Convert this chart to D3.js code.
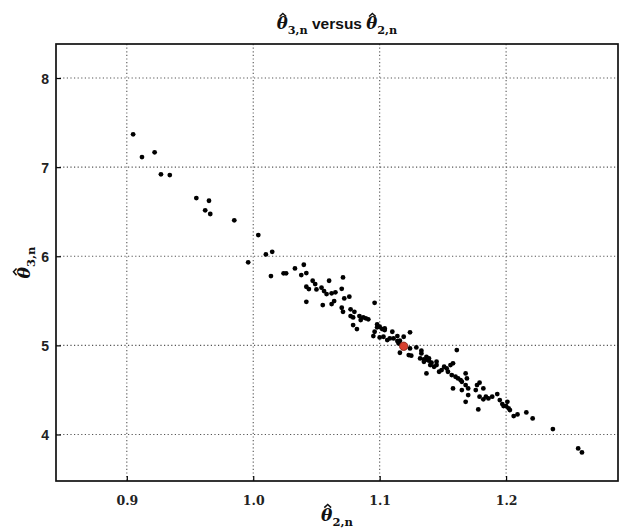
<!DOCTYPE html>
<html>
<head>
<meta charset="utf-8">
<script src="https://cdn.jsdelivr.net/npm/d3@7"></script>
<style>
  body { margin: 0; background: #fff; }
  svg { display: block; }
</style>
</head>
<body>
<svg id="chart" width="622" height="528"></svg>
<script>
// scatter values
var thetaTwo = [
  0.905, 0.912, 0.922, 0.927, 0.934, 0.955, 0.965, 0.962, 0.966, 0.985,
  1.004, 1.010, 1.015, 0.996, 1.014, 1.024, 1.026,
  1.033, 1.040, 1.038, 1.042, 1.047, 1.049, 1.042, 1.044, 1.050, 1.054,
  1.056, 1.060, 1.058, 1.062, 1.065, 1.070, 1.071, 1.042, 1.055, 1.062,
  1.064, 1.072, 1.076, 1.070, 1.071, 1.077, 1.080, 1.077, 1.079, 1.084,
  1.087, 1.085, 1.089, 1.091, 1.079, 1.082, 1.096, 1.098, 1.098, 1.100,
  1.102, 1.104, 1.096, 1.095, 1.100, 1.103, 1.106, 1.108, 1.111, 1.114,
  1.114, 1.104, 1.110, 1.116, 1.115, 1.116, 1.133, 1.137, 1.135, 1.139,
  1.141, 1.140, 1.143, 1.145,
  1.124, 1.119, 1.124, 1.129, 1.123, 1.125, 1.133, 1.132, 1.136, 1.139,
  1.135, 1.145, 1.147, 1.149, 1.151, 1.153, 1.156, 1.158, 1.154, 1.157,
  1.160, 1.162, 1.164, 1.168, 1.169, 1.165, 1.168, 1.158, 1.165, 1.170,
  1.168, 1.170, 1.177, 1.179, 1.176, 1.182, 1.179, 1.182, 1.184, 1.186,
  1.189, 1.193, 1.178, 1.195, 1.197, 1.198, 1.201, 1.202, 1.203, 1.200,
  1.206, 1.209, 1.216, 1.221, 1.237, 1.257, 1.260, 1.161, 1.137
];
var thetaThree = [
  7.368, 7.113, 7.166, 6.919, 6.911, 6.653, 6.623, 6.515, 6.474, 6.403,
  6.238, 6.021, 6.050, 5.932, 5.778, 5.808, 5.808,
  5.864, 5.905, 5.789, 5.811, 5.725, 5.688, 5.658, 5.632, 5.628, 5.647,
  5.609, 5.725, 5.576, 5.584, 5.595, 5.635, 5.763, 5.489, 5.452, 5.463,
  5.497, 5.527, 5.546, 5.422, 5.377, 5.404, 5.377, 5.329, 5.314, 5.329,
  5.314, 5.284, 5.303, 5.292, 5.228, 5.183, 5.478, 5.235, 5.202, 5.209,
  5.183, 5.172, 5.153, 5.104, 5.089, 5.097, 5.060, 5.078, 5.078, 5.104,
  5.048, 5.190, 5.153, 5.052, 5.022, 4.917, 4.940, 4.872, 4.843, 4.828,
  4.805, 4.779, 4.760, 4.779,
  5.146, 5.097, 4.966, 4.977, 4.891, 4.884, 4.910, 4.854, 4.835, 4.854,
  4.816, 4.816, 4.704, 4.723, 4.760, 4.741, 4.779, 4.798, 4.704, 4.667,
  4.648, 4.629, 4.611, 4.685, 4.629, 4.592, 4.554, 4.517, 4.498, 4.517,
  4.367, 4.442, 4.554, 4.581, 4.498, 4.517, 4.424, 4.394, 4.424, 4.405,
  4.424, 4.453, 4.281, 4.386, 4.341, 4.319, 4.367, 4.293, 4.274, 4.319,
  4.207, 4.225, 4.248, 4.180, 4.061, 3.844, 3.799, 4.947, 4.685
];
// the highlighted (true value) point
var trueTwo = [1.119];
var trueThree = [4.99];

var xTicks = [0.9, 1.0, 1.1, 1.2];
var yTicks = [4, 5, 6, 7, 8];

// plot box (don't call these top/left globals, window.top is taken)
var box = {l: 56, r: 618, t: 44, b: 481};

var svg = d3.select("#chart");

var x = d3.scaleLinear().domain([0.844, 1.2885]).range([box.l, box.r]);
var y = d3.scaleLinear().domain([3.478, 8.382]).range([box.b, box.t]);

// dotted grid
svg.append("g").selectAll("line").data(xTicks).enter().append("line")
  .attr("x1", d => x(d)).attr("x2", d => x(d))
  .attr("y1", box.t).attr("y2", box.b)
  .attr("stroke", "#555").attr("stroke-width", 1.1)
  .attr("stroke-dasharray", "1.2,2.4");
svg.append("g").selectAll("line").data(yTicks).enter().append("line")
  .attr("x1", box.l).attr("x2", box.r)
  .attr("y1", d => y(d)).attr("y2", d => y(d))
  .attr("stroke", "#555").attr("stroke-width", 1.1)
  .attr("stroke-dasharray", "1.2,2.4");

// axes, ticks pointing inwards
var xAxis = svg.append("g").attr("transform", "translate(0," + box.b + ")")
  .call(d3.axisTop(x).tickValues(xTicks).tickSize(5).tickFormat(d3.format(".1f")));
var yAxis = svg.append("g").attr("transform", "translate(" + box.l + ",0)")
  .call(d3.axisRight(y).tickValues(yTicks).tickSize(5).tickFormat(d3.format("d")));
xAxis.select(".domain").remove();
yAxis.select(".domain").remove();
xAxis.selectAll(".tick line").attr("stroke", "#000").attr("stroke-width", 1.2);
yAxis.selectAll(".tick line").attr("stroke", "#000").attr("stroke-width", 1.2);

xAxis.selectAll(".tick text")
  .attr("y", 24).attr("dy", null)
  .attr("font-family", "'DejaVu Serif', serif").attr("font-weight", "bold")
  .attr("font-size", 12.5).attr("fill", "#222");
yAxis.selectAll(".tick text")
  .attr("x", -7).attr("dy", "0.36em").attr("text-anchor", "end")
  .attr("font-family", "'Liberation Sans', Arial, sans-serif").attr("font-weight", "bold")
  .attr("font-size", 14).attr("fill", "#222");

// points
svg.append("g").selectAll("circle").data(thetaTwo).enter().append("circle")
  .attr("cx", d => x(d))
  .attr("cy", (d, i) => y(thetaThree[i]))
  .attr("r", 2.4)
  .attr("fill", "#000");

svg.append("g").selectAll("circle").data(trueTwo).enter().append("circle")
  .attr("cx", d => x(d))
  .attr("cy", (d, i) => y(trueThree[i]))
  .attr("r", 4.2)
  .attr("fill", "#d8402f")
  .attr("stroke", "#7a1d12")
  .attr("stroke-width", 0.8);

// frame
svg.append("rect")
  .attr("x", box.l).attr("y", box.t)
  .attr("width", box.r - box.l).attr("height", box.b - box.t)
  .attr("fill", "none").attr("stroke", "#111").attr("stroke-width", 1.7);

// theta with a hat and a subscript; the hat is drawn as a small path over the glyph
function thetaLabel(g, txt, sub, size) {
  var th = txt.append("tspan")
    .attr("font-family", "'DejaVu Serif', serif")
    .attr("font-style", "italic").attr("font-weight", "bold")
    .attr("font-size", size)
    .text("\u03b8");
  txt.append("tspan")
    .attr("font-family", "'DejaVu Serif', serif")
    .attr("font-weight", "bold")
    .attr("font-size", size * 0.68)
    .attr("dy", size * 0.28)
    .text(sub);
  return th;
}
function addHats(g, list, size) {
  list.forEach(function(th) {
    var bb = th.node().getBBox();
    var cx = bb.x + bb.width * 0.55, ty = bb.y + bb.height * 0.06;
    g.append("path")
      .attr("d", "M" + (cx - size * 0.2) + "," + (ty + size * 0.08) +
                 "L" + cx + "," + (ty - size * 0.1) +
                 "L" + (cx + size * 0.2) + "," + (ty + size * 0.08))
      .attr("fill", "none").attr("stroke", "#111").attr("stroke-width", size * 0.09);
  });
}

// title
var tg = svg.append("g");
var title = tg.append("text")
  .attr("x", (box.l + box.r) / 2).attr("y", 29)
  .attr("text-anchor", "middle").attr("fill", "#111");
var t1 = thetaLabel(tg, title, "3,n", 16.5);
title.append("tspan")
  .attr("dy", -16.5 * 0.28)
  .attr("font-family", "'Liberation Sans', Arial, sans-serif")
  .attr("font-weight", "bold").attr("font-size", 15.5)
  .text(" versus ");
var t2 = thetaLabel(tg, title, "2,n", 16.5);
addHats(tg, [t1, t2], 16.5);

// x label
var xg = svg.append("g");
var xl = xg.append("text")
  .attr("x", (box.l + box.r) / 2).attr("y", 521)
  .attr("text-anchor", "middle").attr("fill", "#111");
addHats(xg, [thetaLabel(xg, xl, "2,n", 17)], 17);

// y label
var yg = svg.append("g")
  .attr("transform", "translate(30," + ((box.t + box.b) / 2) + ") rotate(-90)");
var yl = yg.append("text")
  .attr("x", 0).attr("y", 0)
  .attr("text-anchor", "middle").attr("fill", "#111");
addHats(yg, [thetaLabel(yg, yl, "3,n", 17)], 17);
</script>
</body>
</html>
